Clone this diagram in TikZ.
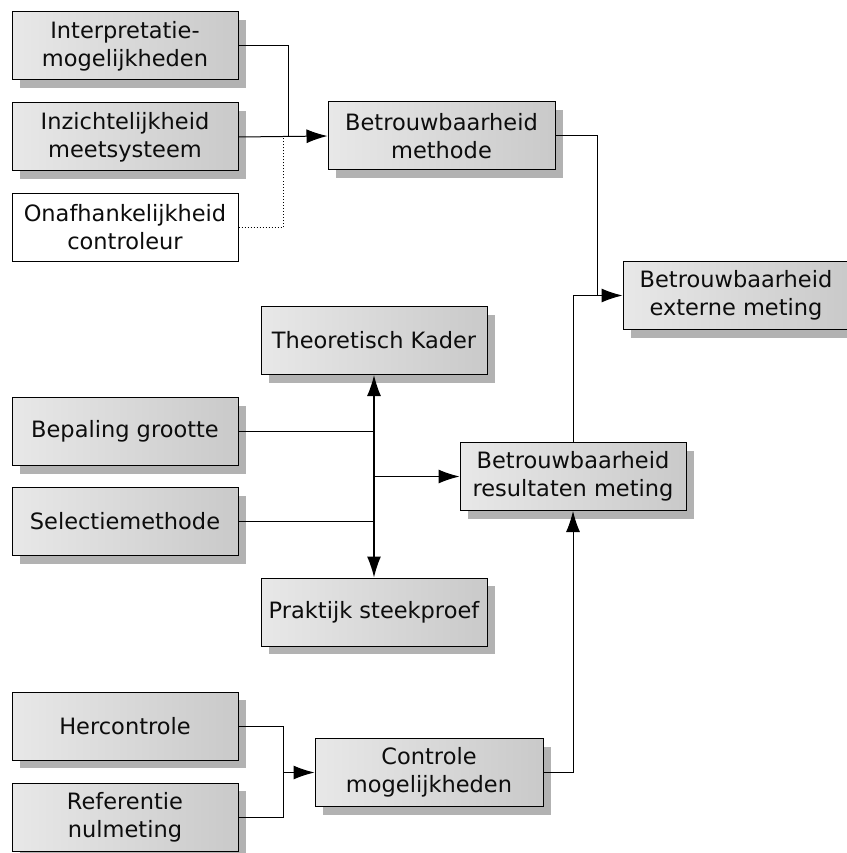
\documentclass[tikz,border=0pt]{standalone}
\usepackage{fontspec}
\setmainfont{DejaVu Sans}
\usepackage{tikz}
\usetikzlibrary{arrows.meta,shapes,shadows,positioning,calc}

\begin{document}
\begin{tikzpicture}[
x=1pt, y=-1pt,
>={Latex[length=21pt,width=14pt]}, line width=1pt,
factor-node/.style = {rectangle, draw=black, line width=1pt, text=black!95,
  left color=black!9, right color=black!21, align=center,
  minimum width=226pt, minimum height=68pt, inner sep=2pt,
  font=\fontsize{22.5}{28}\selectfont,
  drop shadow={shadow xshift=8pt, shadow yshift=-8pt, fill=black!30, opacity=1}},
plain-node/.style = {rectangle, draw=black, line width=1pt, text=black!95,
  fill=white, align=center, minimum width=226pt, minimum height=68pt,
  inner sep=2pt, font=\fontsize{22.5}{28}\selectfont}
]
\useasboundingbox (0,0) rectangle (846,853);

% left column, top
\node [factor-node] (interp) at (125, 46) {Interpretatie-\\mogelijkheden};
\node [factor-node] (inzicht) at (125, 137) {Inzichtelijkheid\\meetsysteem};
\node [plain-node] (onafh) at (125, 227) {Onafhankelijkheid\\controleur};

\node [factor-node, minimum width=227pt] (methode) at (441.5, 136) {Betrouwbaarheid\\methode};
\node [factor-node] (externe) at (736, 295.5) {Betrouwbaarheid\\externe meting};

% middle block
\node [factor-node] (kader) at (374, 340.5) {Theoretisch Kader};
\node [factor-node] (bepaling) at (125, 431.5) {Bepaling grootte};
\node [factor-node] (selectie) at (125, 521.5) {Selectiemethode};
\node [factor-node] (resultaten) at (573, 476.5) {Betrouwbaarheid\\resultaten meting};
\node [factor-node] (praktijk) at (374, 612) {Praktijk steekproef};

% bottom block
\node [factor-node] (hercontrole) at (125, 726) {Hercontrole};
\node [factor-node] (referentie) at (125, 817) {Referentie\\nulmeting};
\node [factor-node, minimum width=228pt] (controle) at (429, 772.5) {Controle\\mogelijkheden};

\coordinate (jm) at (288, 136);
\coordinate (jd) at (283, 136);
\coordinate (je) at (597, 296);
\coordinate (jc) at (283, 772.5);

% arrows
\draw (interp.east) -| (jm);
\draw[->] (inzicht.east) -- (methode.west);
\draw[dotted] (onafh.east) -| (jd);

\draw (methode.east) -| (je);
\draw[->] (resultaten.north) |- (externe.west);

\draw[<->, line width=1.3pt] (kader.south) -- (praktijk.north);
\draw (bepaling.east) -- (bepaling.east -| kader.south);
\draw (selectie.east) -- (selectie.east -| kader.south);
\draw[->] (kader.south |- resultaten.west) -- (resultaten.west);

\draw (hercontrole.east) -| (jc);
\draw (referentie.east) -| (jc);
\draw[->] (jc) -- (controle.west);
\draw[->] (controle.east) -| (resultaten.south);

\end{tikzpicture}
\end{document}
